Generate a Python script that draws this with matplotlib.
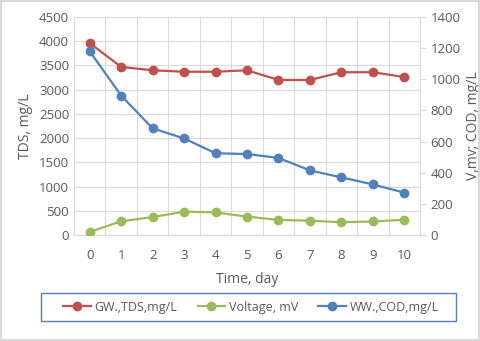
import matplotlib.pyplot as plt
import numpy as np

plt.rcParams['font.family'] = ['Open Sans', 'DejaVu Sans']

days = [0, 1, 2, 3, 4, 5, 6, 7, 8, 9, 10]
tds = [3960, 3470, 3400, 3370, 3370, 3400, 3200, 3200, 3360, 3360, 3260]
voltage = [20, 88, 115, 150, 145, 118, 97, 92, 82, 87, 98]
cod = [1180, 895, 685, 620, 525, 520, 495, 415, 370, 325, 272]

red = '#c0504d'
green = '#9bbb59'
blue = '#4f81bd'
txt = '#595959'
grid = '#d9d9d9'

fig = plt.figure(figsize=(4.8, 3.41), dpi=100)
ax = fig.add_axes([74/480, 1-235/341, (420-74)/480, (235-17)/341])
ax2 = ax.twinx()

l1, = ax.plot(days, tds, color=red, marker='o', ms=6, lw=1.6, label='GW.,TDS,mg/L')
l2, = ax2.plot(days, voltage, color=green, marker='o', ms=6, lw=1.6, label='Voltage, mV')
l3, = ax2.plot(days, cod, color=blue, marker='o', ms=6, lw=1.6, label='WW.,COD,mg/L')

ax.set_xlim(-0.5, 10.5)
ax.set_ylim(0, 4500)
ax.set_yticks(np.arange(0, 4501, 500))
ax2.set_ylim(0, 1400)
ax2.set_yticks(np.arange(0, 1401, 200))
ax.set_xticks(days)
ax.set_xticks(np.arange(-0.5, 10.6, 1), minor=True)

ax.grid(False)
ax.yaxis.grid(True, color=grid, lw=0.8)
ax.xaxis.grid(True, which='minor', color=grid, lw=0.8)
ax.set_axisbelow(True)

for a in (ax, ax2):
    for s in a.spines.values():
        s.set_visible(False)
    a.tick_params(colors=txt, labelsize=9.5)
ax.spines['bottom'].set_visible(True)
ax.spines['bottom'].set_color(grid)
ax2.spines['right'].set_visible(True)
ax2.spines['right'].set_color(grid)
ax.tick_params(axis='x', which='both', length=0, pad=10)
ax.tick_params(axis='y', length=0)
ax2.tick_params(axis='y', length=4, color=grid, direction='out')

ax.set_xlabel('Time, day', color=txt, fontsize=10, labelpad=7)
ax.set_ylabel('TDS, mg/L', color=txt, fontsize=10)
ax2.set_ylabel('V,mv; COD, mg/L', color=txt, fontsize=10)

leg = fig.legend(handles=[l1, l2, l3], loc='center', bbox_to_anchor=(251/480, 1-307/341),
                 ncol=3, frameon=False, fontsize=9,
                 handlelength=2.2, handletextpad=0.3, columnspacing=1.6)
for t in leg.get_texts():
    t.set_color(txt)

fig.patches.append(plt.Rectangle((41/480, 1-321/341), 415/480, 28/341, transform=fig.transFigure,
                                 fill=False, edgecolor=blue, lw=1.0))
fig.patches.append(plt.Rectangle((0.002, 0.003), 0.995, 0.993, transform=fig.transFigure,
                                 fill=False, edgecolor='#d9d9d9', lw=1.5))

fig.savefig('out.png', dpi=100)
